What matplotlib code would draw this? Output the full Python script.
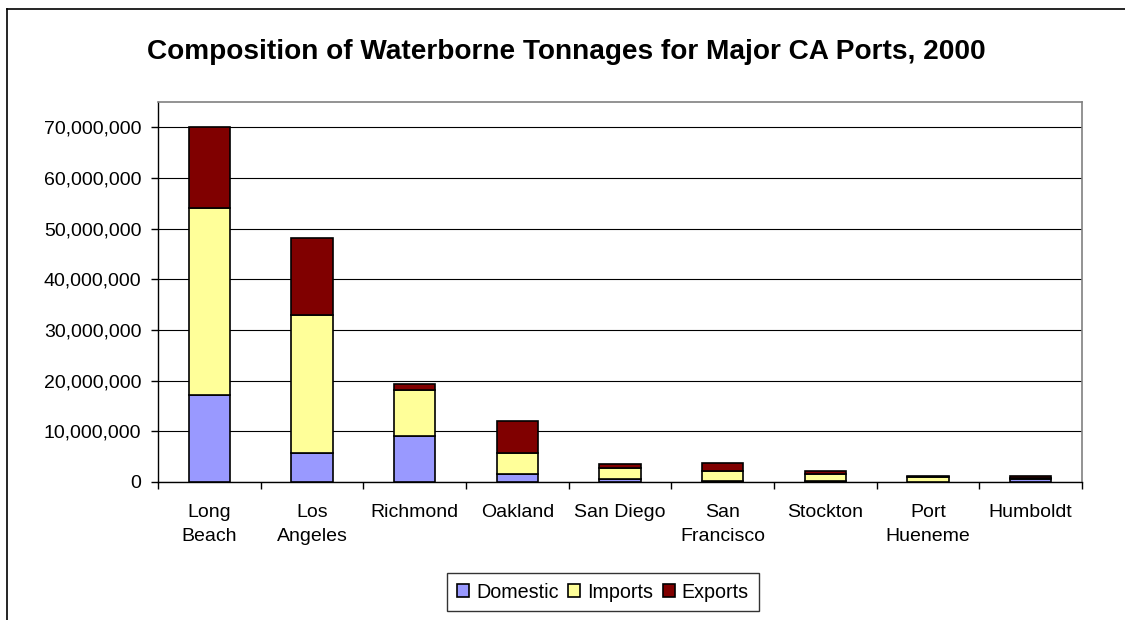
import numpy as np
import matplotlib
matplotlib.use("Agg")
import matplotlib.pyplot as plt
from matplotlib.ticker import FuncFormatter, FixedLocator
from matplotlib.lines import Line2D

plt.rcParams['font.family'] = ['Liberation Sans', 'DejaVu Sans']

ports = ["Long\nBeach", "Los\nAngeles", "Richmond", "Oakland", "San Diego",
         "San\nFrancisco", "Stockton", "Port\nHueneme", "Humboldt"]
domestic = [17.2e6, 5.7e6, 9.0e6, 1.6e6, 0.6e6, 0.2e6, 0.1e6, 0.05e6, 0.6e6]
imports = [36.8e6, 27.3e6, 9.2e6, 4.1e6, 2.1e6, 1.9e6, 1.5e6, 1.0e6, 0.1e6]
exports = [16.0e6, 15.2e6, 1.2e6, 6.4e6, 0.9e6, 1.6e6, 0.5e6, 0.05e6, 0.4e6]

colors = {"Domestic": "#9999FF", "Imports": "#FFFF99", "Exports": "#800000"}

fig = plt.figure(figsize=(11.25, 6.2), dpi=100)
ax = fig.add_axes([158 / 1125, 1 - 482 / 620, 924 / 1125, 380 / 620])

x = np.arange(len(ports))
dom = np.array(domestic)
imp = np.array(imports)
exp_ = np.array(exports)
w = 0.4
ax.bar(x, dom, w, color=colors["Domestic"], edgecolor="black", linewidth=1.2, label="Domestic", zorder=3)
ax.bar(x, imp, w, bottom=dom, color=colors["Imports"], edgecolor="black", linewidth=1.2, label="Imports", zorder=3)
ax.bar(x, exp_, w, bottom=dom + imp, color=colors["Exports"], edgecolor="black", linewidth=1.2, label="Exports", zorder=3)

ax.set_xlim(-0.5, len(ports) - 0.5)
ax.set_ylim(0, 75e6)
ax.set_yticks(np.arange(0, 70e6 + 1, 10e6))
ax.yaxis.set_major_formatter(FuncFormatter(lambda v, p: f"{int(v):,}"))
ax.yaxis.grid(True, color="black", linewidth=0.8, zorder=0)
ax.set_axisbelow(True)

ax.set_xticks(x)
ax.set_xticklabels(ports, fontsize=14, linespacing=1.55)
ax.xaxis.set_minor_locator(FixedLocator(np.arange(-0.5, len(ports), 1.0)))
ax.tick_params(axis="x", which="major", length=0, pad=16)
ax.tick_params(axis="x", which="minor", length=5, width=1, color="black", direction="out")
ax.tick_params(axis="y", length=5, width=1, labelsize=14, pad=7)

for s in ["top", "right"]:
    ax.spines[s].set_color("#808080")
    ax.spines[s].set_linewidth(1.2)
for s in ["left", "bottom"]:
    ax.spines[s].set_color("black")
    ax.spines[s].set_linewidth(1.0)

fig.text(566 / 1125, 1 - 52 / 620, "Composition of Waterborne Tonnages for Major CA Ports, 2000",
         ha="center", va="center", fontsize=20.2, fontweight="bold")

leg = fig.legend(loc="center", bbox_to_anchor=(603 / 1125, 1 - 592 / 620), ncol=3,
                 fontsize=14.2, frameon=True, fancybox=False, edgecolor="black",
                 handlelength=0.6, handleheight=0.6, handletextpad=0.35, columnspacing=0.5,
                 borderpad=0.5, borderaxespad=0)
leg.get_frame().set_linewidth(1.0)

# outer chart frame (partially visible)
fig.add_artist(Line2D([7 / 1125, 7 / 1125], [0, 1 - 9 / 620], color="black", linewidth=1.2, transform=fig.transFigure))
fig.add_artist(Line2D([7 / 1125, 1], [1 - 9 / 620, 1 - 9 / 620], color="black", linewidth=1.2, transform=fig.transFigure))

fig.savefig("out.png", dpi=100)
